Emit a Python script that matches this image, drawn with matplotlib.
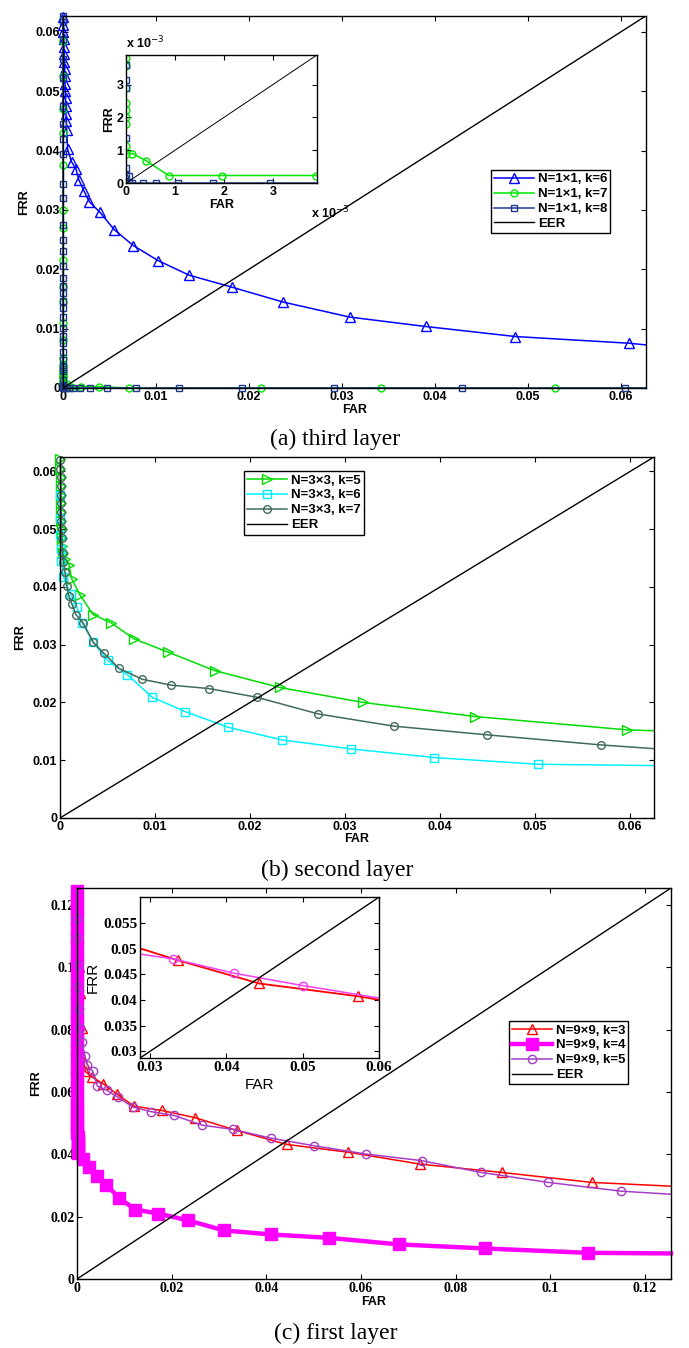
import matplotlib
matplotlib.use('Agg')
import matplotlib.pyplot as plt
import numpy as np

plt.rcParams['font.family'] = ['Liberation Sans', 'DejaVu Sans']

# ---------------- (a) third layer, N=1x1 ----------------
far_a6 = [0, 0.00003, 0.00005, 0.00008, 0.0001, 0.00012, 0.00015, 0.00018, 0.0002, 0.00022,
          0.00025, 0.00028, 0.0003, 0.00033, 0.00036, 0.0004, 0.0005, 0.00093, 0.0014, 0.0017,
          0.00226, 0.00283, 0.00398, 0.0055, 0.00756, 0.01025, 0.01358, 0.01814, 0.02369,
          0.03086, 0.039, 0.04864, 0.06086, 0.0627]
frr_a6 = [0.0625, 0.0612, 0.0600, 0.0588, 0.0575, 0.0562, 0.0550, 0.0538, 0.0525, 0.0512,
          0.0500, 0.0488, 0.0475, 0.0462, 0.0450, 0.0435, 0.0402, 0.0381, 0.0369, 0.0351,
          0.0332, 0.0314, 0.0296, 0.0267, 0.0240, 0.02145, 0.0190, 0.0170, 0.01447,
          0.01194, 0.01036, 0.00867, 0.00754, 0.00726]

far_a7 = [0, 0, 0, 0, 0, 0, 0, 0, 0, 0, 0, 0, 0, 0, 0, 0, 0, 0, 0, 0, 0, 0,
          0.00013, 0.00041, 0.00087, 0.00195, 0.00388, 0.0071, 0.0213, 0.0342, 0.0529, 0.0627]
frr_a7 = [0.0585, 0.0525, 0.047, 0.043, 0.0375, 0.030, 0.027, 0.0215, 0.017, 0.0145, 0.011,
          0.008, 0.005, 0.0038, 0.00357, 0.0029, 0.00245, 0.00224, 0.00202, 0.00179, 0.00112,
          0.0009, 0.0009, 0.00068, 0.00023, 0.00023, 0.00023, 0.0, 0.0, 0.0, 0.0, 0.0]

far_a8 = [0, 0, 0, 0, 0, 0, 0, 0, 0, 0, 0, 0, 0, 0, 0, 0, 0, 0, 0, 0, 0, 0, 0, 0, 0, 0, 0, 0,
          0, 0, 0, 0, 0.00005, 0.00005, 0.00013, 0.00034, 0.00062, 0.00106, 0.00178, 0.00295,
          0.00477, 0.0079, 0.01247, 0.0193, 0.0292, 0.0429, 0.0605, 0.0627]
frr_a8 = [0.0627, 0.0616, 0.0588, 0.0555, 0.0523, 0.0475, 0.0445, 0.0419, 0.0394, 0.0343,
          0.032, 0.0275, 0.025, 0.023, 0.0205, 0.0185, 0.0171, 0.016, 0.0146, 0.0135, 0.012,
          0.0101, 0.0087, 0.0076, 0.0061, 0.0047, 0.0036, 0.00314, 0.0029, 0.00138, 0.00046,
          0.00026, 0.0002, 0.0, 0.0, 0.0, 0.0, 0.0, 0.0, 0.0, 0.0, 0.0, 0.0, 0.0, 0.0, 0.0,
          0.0, 0.0]

# ---------------- (b) second layer, N=3x3 ----------------
far_b5 = [0.00005, 0.00005, 0.00007, 0.00008, 0.0001, 0.0001, 0.00012, 0.00014, 0.00016, 0.0002,
          0.00025, 0.0003, 0.0005, 0.00095, 0.00123, 0.0021, 0.0035, 0.00537, 0.0078, 0.0114,
          0.0163, 0.0231, 0.0319, 0.0437, 0.0597, 0.0625]
frr_b5 = [0.0622, 0.0605, 0.059, 0.0575, 0.056, 0.0545, 0.053, 0.0515, 0.050, 0.0485,
          0.047, 0.0458, 0.0448, 0.0438, 0.0414, 0.0386, 0.0352, 0.0338, 0.031, 0.0287,
          0.0255, 0.0226, 0.0200, 0.01756, 0.01525, 0.0151]

far_b6 = [0.0, 0.00002, 0.00005, 0.0001, 0.00015, 0.00035, 0.00113, 0.00176, 0.00235, 0.0035,
          0.005, 0.0071, 0.0097, 0.0132, 0.0177, 0.0234, 0.0306, 0.0394, 0.0503, 0.0625]
frr_b6 = [0.0560, 0.052, 0.049, 0.0465, 0.0445, 0.0418, 0.0388, 0.0366, 0.0337, 0.0304,
          0.0273, 0.0248, 0.0209, 0.0184, 0.0157, 0.0135, 0.01196, 0.01046, 0.0093, 0.00907]

far_b7 = [0.00005, 0.00005, 0.00006, 0.00007, 0.00008, 0.0001, 0.00012, 0.00014, 0.00017, 0.0002,
          0.00028, 0.00035, 0.00053, 0.0007, 0.00095, 0.00123, 0.00168, 0.00246, 0.0035,
          0.00463, 0.0062, 0.00867, 0.01168, 0.0157, 0.0207, 0.0272, 0.0351, 0.0449, 0.0569,
          0.0625]
frr_b7 = [0.0620, 0.0605, 0.059, 0.0575, 0.056, 0.0545, 0.053, 0.0515, 0.050, 0.0485,
          0.0458, 0.0444, 0.0425, 0.0401, 0.0384, 0.0371, 0.0352, 0.0337, 0.0304, 0.0285,
          0.0259, 0.0240, 0.0230, 0.0224, 0.0209, 0.0180, 0.0159, 0.0144, 0.01265, 0.0120]

# ---------------- (c) first layer, N=9x9 ----------------
far_c3 = [0.0, 0.0002, 0.0004, 0.0007, 0.001, 0.0015, 0.0017, 0.0031, 0.0055, 0.0084, 0.012,
          0.0179, 0.0249, 0.0337, 0.0443, 0.0573, 0.0724, 0.0897, 0.1088, 0.1255]
frr_c3 = [0.125, 0.11, 0.1, 0.0917, 0.0805, 0.0693, 0.0667, 0.0649, 0.0627, 0.0594, 0.0555,
          0.0541, 0.0518, 0.0477, 0.0432, 0.0407, 0.0369, 0.0342, 0.031, 0.0298]

far_c4 = [0.0, 0.0, 0.0, 0.0, 0.0, 0.0, 0.0, 0.0, 0.0, 0.0, 0.0, 0.0, 0.0, 0.0, 0.0, 0.0,
          0.0, 0.0, 0.0, 0.0, 0.0, 0.0, 0.0, 0.00002, 0.00003, 0.00004, 0.00005, 0.00006,
          0.00008, 0.0001, 0.00012, 0.00015, 0.00018, 0.0002, 0.00028, 0.00134, 0.0026,
          0.0042, 0.0062, 0.0088, 0.0123, 0.0172, 0.0235, 0.031, 0.0409, 0.0533, 0.068,
          0.0862, 0.1079, 0.1255]
frr_c4 = [0.1245, 0.1215, 0.1185, 0.1155, 0.1125, 0.1095, 0.1065, 0.1035, 0.1005, 0.0975,
          0.0945, 0.0915, 0.0885, 0.0855, 0.0825, 0.0795, 0.0765, 0.0735, 0.0705, 0.0675,
          0.0645, 0.0615, 0.0585, 0.0560, 0.0540, 0.0520, 0.0500, 0.0485, 0.0470, 0.0455,
          0.0443, 0.0432, 0.0422, 0.0414, 0.0406, 0.0385, 0.0358, 0.0332, 0.0303, 0.0261,
          0.0223, 0.0210, 0.0188, 0.0156, 0.0143, 0.0132, 0.0111, 0.0098, 0.0084, 0.0082]

far_c5 = [0.0, 0.0, 0.00005, 0.0001, 0.0002, 0.00035, 0.0006, 0.001, 0.0017, 0.0022, 0.0033,
          0.0043, 0.0063, 0.0086, 0.0118, 0.0157, 0.0205, 0.0264, 0.033, 0.041, 0.050, 0.0611,
          0.0728, 0.0854, 0.0996, 0.1149, 0.1255]
frr_c5 = [0.1255, 0.1158, 0.1094, 0.1007, 0.0938, 0.0867, 0.0805, 0.076, 0.0715, 0.0686, 0.0667,
          0.0619, 0.0606, 0.0584, 0.0552, 0.0537, 0.0525, 0.0494, 0.048, 0.0452, 0.0428, 0.0401,
          0.038, 0.0342, 0.031, 0.0282, 0.0272]

LIM_A = 0.0627
LIM_A_IN = 0.0039
LIM_B = 0.0625
LIM_C = 0.1255
LIM_C_IN = (0.0287, 0.06)

ticks_a = [0, 0.01, 0.02, 0.03, 0.04, 0.05, 0.06]
ticks_c = [0, 0.02, 0.04, 0.06, 0.08, 0.1, 0.12]
ticks_c_in_x = [0.03, 0.04, 0.05, 0.06]
ticks_c_in_y = [0.03, 0.035, 0.04, 0.045, 0.05, 0.055]


def mid(n):
    # markers on every point but the last (line ends at the axis edge)
    return list(range(n - 1))


def style_axes(ax, size=9, family=None, weight='bold'):
    ax.tick_params(direction='in', top=True, right=True, length=3.5, width=0.8,
                   labelsize=size, pad=2)
    for lab in ax.get_xticklabels() + ax.get_yticklabels():
        lab.set_fontweight(weight)
        if family:
            lab.set_family(family)
    for s in ax.spines.values():
        s.set_linewidth(1.0)


def make_legend(ax, anchor):
    leg = ax.legend(loc='upper left', bbox_to_anchor=anchor, fontsize=9.5, frameon=True,
                    fancybox=False, edgecolor='black', handlelength=3.0, borderpad=0.25,
                    labelspacing=0.2, handletextpad=0.3, borderaxespad=0, framealpha=1)
    leg.get_frame().set_linewidth(1.0)
    leg.set_zorder(10)
    for t in leg.get_texts():
        t.set_fontweight('bold')
    return leg


def fmt(v):
    return '0' if v == 0 else ('%g' % v)


fig = plt.figure(figsize=(6.89, 13.48), dpi=100)

# ======================= panel (a) =======================
ax = fig.add_axes([0.0914, 0.7122, 0.846, 0.276])
ax.plot(far_a6, frr_a6, '-', color='#0000FF', lw=1.1, marker='^', ms=6.5, mfc='none',
        mew=1.0, markevery=mid(len(far_a6)), clip_on=False, label='N=1×1, k=6')
ax.plot(far_a7, frr_a7, '-', color='#00E800', lw=1.1, marker='o', ms=5, mfc='none',
        mew=1.0, markevery=mid(len(far_a7)), clip_on=False, label='N=1×1, k=7')
ax.plot(far_a8, frr_a8, '-', color='#1E3A8C', lw=1.1, marker='s', ms=5, mfc='none',
        mew=1.0, markevery=mid(len(far_a8)), clip_on=False, label='N=1×1, k=8')
ax.plot([0, LIM_A], [0, LIM_A], '-', color='black', lw=1.0, label='EER')
ax.set_xlim(0, LIM_A)
ax.set_ylim(0, LIM_A)
ax.set_xticks(ticks_a)
ax.set_yticks(ticks_a)
ax.set_xticklabels([fmt(t) for t in ticks_a])
ax.set_yticklabels([fmt(t) for t in ticks_a])
ax.set_xlabel('FAR', fontsize=9, fontweight='bold', labelpad=1)
ax.set_ylabel('FRR', fontsize=9, fontweight='bold', labelpad=4)
style_axes(ax)
make_legend(ax, (0.734, 0.586))

# inset (a)
axi = fig.add_axes([0.183, 0.8642, 0.277, 0.095])
axi.plot(far_a7, frr_a7, '-', color='#00E800', lw=1.1, marker='o', ms=5, mfc='none',
         mew=1.0, markevery=mid(len(far_a7)))
axi.plot(far_a8, frr_a8, '-', color='#1E3A8C', lw=1.1, marker='s', ms=5, mfc='none',
         mew=1.0, markevery=mid(len(far_a8)))
axi.plot([0, LIM_A_IN], [0, LIM_A_IN], '-', color='black', lw=0.7)
axi.set_xlim(0, LIM_A_IN)
axi.set_ylim(0, LIM_A_IN)
ticks_in = [0, 0.001, 0.002, 0.003]
axi.set_xticks(ticks_in)
axi.set_yticks(ticks_in)
axi.set_xticklabels(['0', '1', '2', '3'])
axi.set_yticklabels(['0', '1', '2', '3'])
axi.set_xlabel('FAR', fontsize=9, fontweight='bold', labelpad=1)
axi.set_ylabel('FRR', fontsize=9, fontweight='bold', labelpad=1)
style_axes(axi)
axi.text(0.0, 1.03, 'x 10$^{-3}$', transform=axi.transAxes, fontsize=9, fontweight='bold',
         ha='left', va='bottom')
axi.text(0.97, -0.3, 'x 10$^{-3}$', transform=axi.transAxes, fontsize=9, fontweight='bold',
         ha='left', va='bottom')

fig.text(0.486, 0.674, '(a) third layer', fontsize=17, family='Liberation Serif',
         ha='center', va='center')

# ======================= panel (b) =======================
ax = fig.add_axes([0.0871, 0.3932, 0.862, 0.2678])
ax.plot(far_b5, frr_b5, '-', color='#00DD00', lw=1.1, marker='>', ms=6.5, mfc='none',
        mew=1.0, markevery=mid(len(far_b5)), clip_on=False, label='N=3×3, k=5')
ax.plot(far_b6, frr_b6, '-', color='#00F0FF', lw=1.1, marker='s', ms=5.5, mfc='none',
        mew=1.0, markevery=mid(len(far_b6)), clip_on=False, label='N=3×3, k=6')
ax.plot(far_b7, frr_b7, '-', color='#406B5A', lw=1.1, marker='o', ms=5.5, mfc='none',
        mew=1.0, markevery=mid(len(far_b7)), clip_on=False, label='N=3×3, k=7')
ax.plot([0, LIM_B], [0, LIM_B], '-', color='black', lw=1.0, label='EER')
ax.set_xlim(0, LIM_B)
ax.set_ylim(0, LIM_B)
ax.set_xticks(ticks_a)
ax.set_yticks(ticks_a)
ax.set_xticklabels([fmt(t) for t in ticks_a])
ax.set_yticklabels([fmt(t) for t in ticks_a])
ax.set_xlabel('FAR', fontsize=9, fontweight='bold', labelpad=0)
ax.set_ylabel('FRR', fontsize=9, fontweight='bold', labelpad=5)
style_axes(ax)
make_legend(ax, (0.31, 0.961))

fig.text(0.49, 0.354, '(b) second layer', fontsize=17, family='Liberation Serif',
         ha='center', va='center')

# ======================= panel (c) =======================
ax = fig.add_axes([0.1118, 0.0512, 0.862, 0.290])
ax.plot(far_c3, frr_c3, '-', color='#FF0000', lw=1.1, marker='^', ms=6.5, mfc='none',
        mew=1.0, markevery=mid(len(far_c3)), clip_on=False, label='N=9×9, k=3')
ax.plot(far_c4, frr_c4, '-', color='#FF00FF', lw=3.2, marker='s', ms=8.5, mfc='#FF00FF',
        mew=1.0, markevery=mid(len(far_c4)), clip_on=False, label='N=9×9, k=4')
ax.plot(far_c5, frr_c5, '-', color='#A83CC8', lw=1.1, marker='o', ms=6, mfc='none',
        mew=1.0, markevery=list(range(1, len(far_c5) - 1)), clip_on=False,
        label='N=9×9, k=5')
ax.plot([0, LIM_C], [0, LIM_C], '-', color='black', lw=1.0, label='EER')
ax.set_xlim(0, LIM_C)
ax.set_ylim(0, LIM_C)
ax.set_xticks(ticks_c)
ax.set_yticks(ticks_c)
ax.set_xticklabels([fmt(t) for t in ticks_c])
ax.set_yticklabels([fmt(t) for t in ticks_c])
ax.set_xlabel('FAR', fontsize=9, fontweight='bold', labelpad=1)
ax.set_ylabel('FRR', fontsize=9, fontweight='bold', labelpad=6)
style_axes(ax, size=10, family='Liberation Serif')
make_legend(ax, (0.727, 0.66))

# inset (c)
axi = fig.add_axes([0.2032, 0.2151, 0.347, 0.1194])
axi.plot(far_c3, frr_c3, '-', color='#FF0000', lw=1.3, marker='^', ms=7, mfc='none',
         mew=1.0, markevery=mid(len(far_c3)))
axi.plot(far_c5, frr_c5, '-', color='#F040F0', lw=1.1, marker='o', ms=6, mfc='none',
         mew=1.0, markevery=list(range(1, len(far_c5) - 1)))
axi.plot([LIM_C_IN[0], LIM_C_IN[1]], [LIM_C_IN[0], LIM_C_IN[1]], '-', color='black', lw=1.0)
axi.set_xlim(*LIM_C_IN)
axi.set_ylim(*LIM_C_IN)
axi.set_xticks(ticks_c_in_x)
axi.set_yticks(ticks_c_in_y)
axi.set_xticklabels([fmt(t) for t in ticks_c_in_x])
axi.set_yticklabels([fmt(t) for t in ticks_c_in_y])
axi.set_xlabel('FAR', fontsize=11, labelpad=3)
axi.set_ylabel('FRR', fontsize=11, labelpad=2)
style_axes(axi, size=11, family='Liberation Serif')

fig.text(0.488, 0.0110, '(c) first layer', fontsize=17, family='Liberation Serif',
         ha='center', va='center')

fig.savefig('out.png', dpi=100, facecolor='white')
